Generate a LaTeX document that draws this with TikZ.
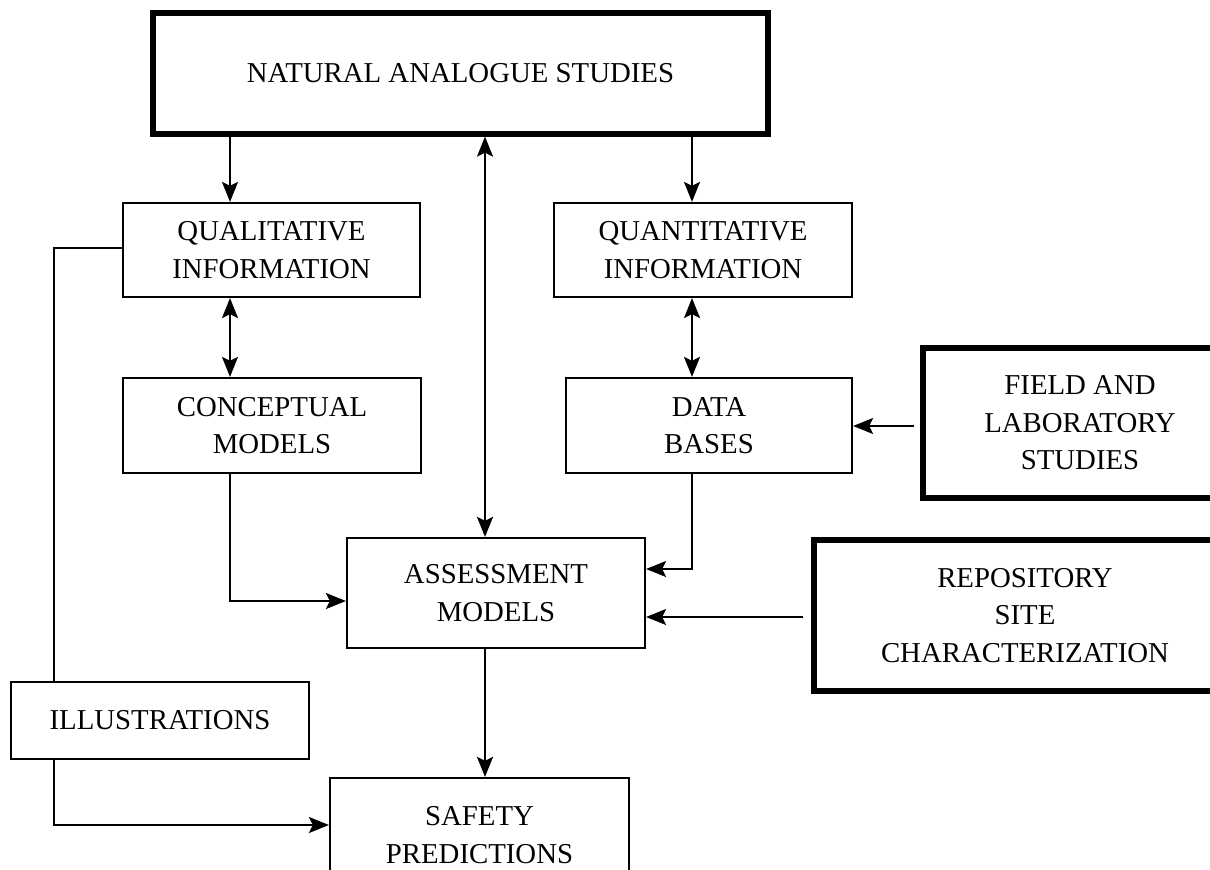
\documentclass[tikz,border=0pt]{standalone}
\usepackage{fontspec}
\setmainfont{Liberation Serif}
\usepackage{tikz}
\usetikzlibrary{arrows.meta}
\tikzstyle{plainbox}=[black, draw=black, line width=1.1pt, shape=rectangle, fill=white, inner sep=0pt, align=center, font=\fontsize{14.4pt}{18.7pt}\selectfont]
\tikzstyle{thickbox}=[plainbox, line width=2.6pt]
\tikzstyle{flow}=[-{Stealth[length=10pt, width=8pt, inset=2pt]}, line width=1.1pt, color=black]
\tikzstyle{bothflow}=[{Stealth[length=10pt, width=8pt, inset=2pt]}-{Stealth[length=10pt, width=8pt, inset=2pt]}, line width=1.1pt, color=black]
\tikzstyle{wire}=[line width=1.1pt, color=black]

\begin{document}
\begin{tikzpicture}[x=0.5pt, y=-0.5pt]
\useasboundingbox (0,0) rectangle (1210,870);

\node [thickbox, minimum width=307.5pt, minimum height=60.5pt] (nas) at (460.5,73.5) {NATURAL ANALOGUE STUDIES};
\node [plainbox, minimum width=148.5pt, minimum height=47pt] (qual) at (271.5,250) {QUALITATIVE\\INFORMATION};
\node [plainbox, minimum width=149pt, minimum height=47pt] (quant) at (703,250) {QUANTITATIVE\\INFORMATION};
\node [plainbox, minimum width=149pt, minimum height=47.5pt] (conc) at (272,425.5) {CONCEPTUAL\\MODELS};
\node [plainbox, minimum width=143pt, minimum height=47.5pt] (data) at (709,425.5) {DATA\\BASES};
\node [thickbox, minimum width=157pt, minimum height=75pt] (field) at (1080,423) {FIELD AND\\LABORATORY\\STUDIES};
\node [plainbox, minimum width=149pt, minimum height=55pt] (assess) at (496,593) {ASSESSMENT\\MODELS};
\node [thickbox, minimum width=211pt, minimum height=75.5pt] (repo) at (1025,615.5) {REPOSITORY\\SITE\\CHARACTERIZATION};
\node [plainbox, minimum width=149pt, minimum height=38.5pt] (illus) at (160,720.5) {ILLUSTRATIONS};
\node [plainbox, minimum width=149.5pt, minimum height=57pt] (safety) at (479.5,835) {SAFETY\\PREDICTIONS};

% columns and rows of the connectors
\coordinate (lcol) at (230,0);
\coordinate (mcol) at (485,0);
\coordinate (rcol) at (692,0);
\coordinate (outer) at (54,0);
\coordinate (qualrow) at (0,248);
\coordinate (fieldrow) at (0,426);
\coordinate (datarow) at (0,569);
\coordinate (concrow) at (0,601);
\coordinate (reporow) at (0,617);
\coordinate (illusrow) at (0,825);

\draw[flow] (nas.south -| lcol) -- (qual.north -| lcol);
\draw[flow] (nas.south -| rcol) -- (quant.north -| rcol);
\draw[bothflow] (nas.south -| mcol) -- (assess.north -| mcol);
\draw[bothflow] (qual.south -| lcol) -- (conc.north -| lcol);
\draw[bothflow] (quant.south -| rcol) -- (data.north -| rcol);
\draw[flow] (conc.south -| lcol) |- (assess.west |- concrow);
\draw[flow] (data.south -| rcol) |- (assess.east |- datarow);
\draw[flow, shorten <=3pt] (field.west |- fieldrow) -- (data.east |- fieldrow);
\draw[flow, shorten <=4pt] (repo.west |- reporow) -- (assess.east |- reporow);
\draw[flow] (assess.south -| mcol) -- (safety.north -| mcol);
\draw[wire] (qual.west |- qualrow) -| (illus.north -| outer);
\draw[flow] (illus.south -| outer) |- (safety.west |- illusrow);
\end{tikzpicture}
\end{document}
